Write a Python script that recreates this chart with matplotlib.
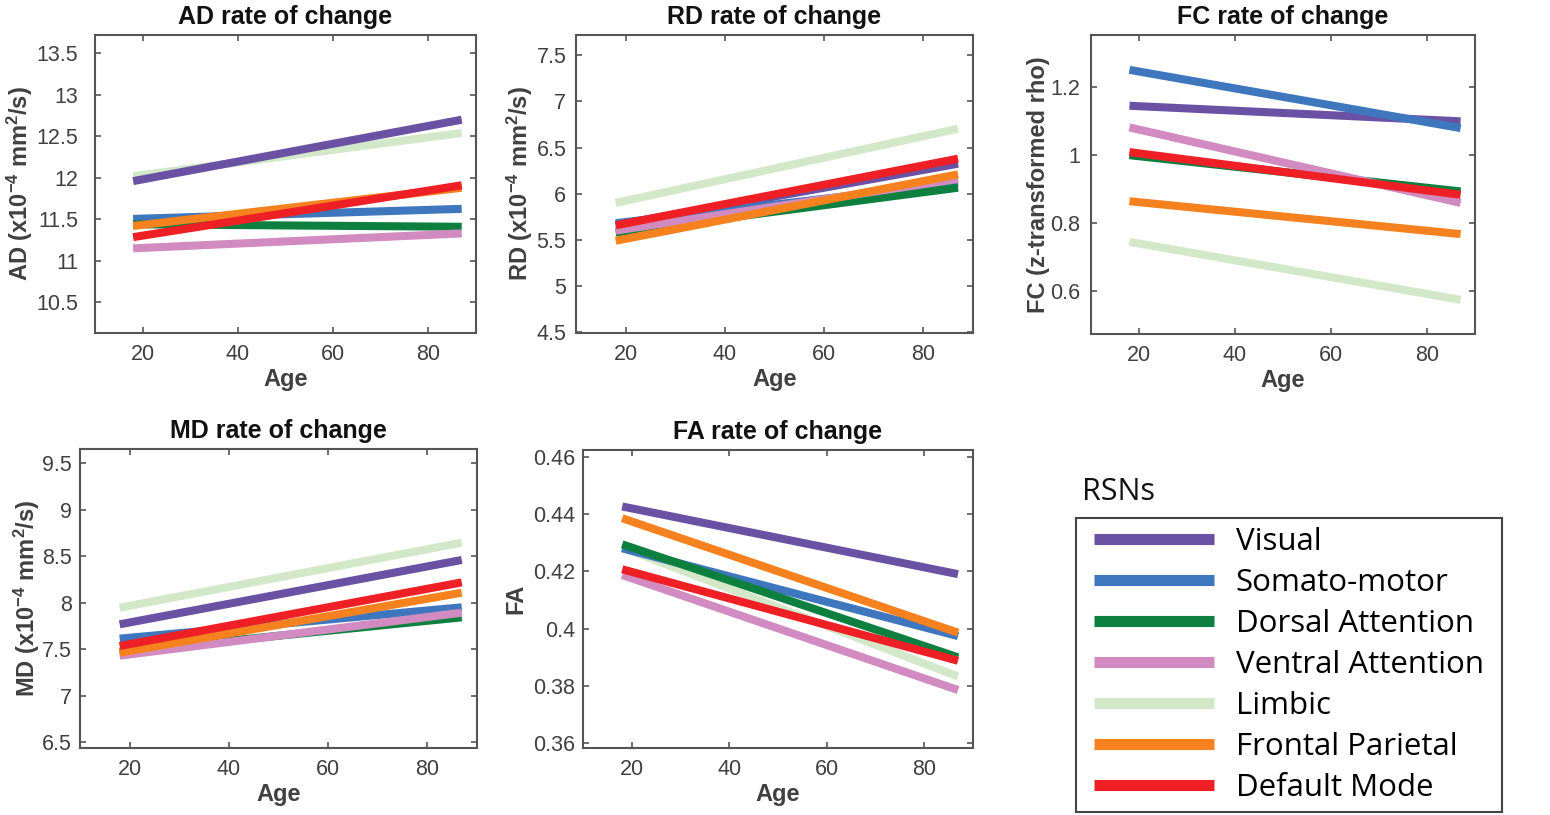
import matplotlib
matplotlib.use("Agg")
import matplotlib.pyplot as plt
from matplotlib.ticker import FuncFormatter
from matplotlib.lines import Line2D

plt.rcParams['font.family'] = ['Liberation Sans', 'DejaVu Sans']
plt.rcParams['mathtext.fontset'] = 'custom'
plt.rcParams['mathtext.rm'] = 'Liberation Sans:bold'
plt.rcParams['mathtext.bf'] = 'Liberation Sans:bold'
plt.rcParams['mathtext.default'] = 'bf'

# ---------------- data ----------------
networks = ["Visual", "Somato-motor", "Dorsal Attention", "Ventral Attention",
            "Limbic", "Frontal Parietal", "Default Mode"]
colors = ["#6A51A3", "#3F77BF", "#0D803F", "#D28BC0", "#D3E8C9", "#F5821F", "#EE2026"]
draw_order = [4, 0, 1, 2, 3, 5, 6]

age = [18, 87]

ad_start = [11.96, 11.505, 11.44, 11.15, 12.02, 11.42, 11.285]
ad_end   = [12.70, 11.626, 11.41, 11.33, 12.54, 11.88, 11.91]

rd_start = [5.66, 5.68, 5.58, 5.60, 5.90, 5.49, 5.657]
rd_end   = [6.325, 6.115, 6.065, 6.16, 6.705, 6.21, 6.38]

fc_start = [1.146, 1.252, 1.000, 1.082, 0.744, 0.864, 1.009]
fc_end   = [1.100, 1.080, 0.893, 0.859, 0.573, 0.767, 0.883]

md_start = [7.769, 7.615, 7.475, 7.432, 7.948, 7.464, 7.536]
md_end   = [8.461, 7.952, 7.844, 7.894, 8.647, 8.109, 8.220]

fa_start = [0.4426, 0.4280, 0.4294, 0.4187, 0.4283, 0.4385, 0.4207]
fa_end   = [0.4190, 0.3974, 0.3900, 0.3786, 0.3833, 0.3986, 0.3888]

xticks = [20, 40, 60, 80]

panels = [
    dict(title="AD rate of change", ylabel=r"AD (x10$^{-4}$ mm$^{2}$/s)",
         start=ad_start, end=ad_end, ylim=(10.13, 13.72),
         yticks=[10.5, 11, 11.5, 12, 12.5, 13, 13.5],
         rect=[0.0613, 0.5914, 0.2458, 0.3656], ypad=12, ylabpad=1),
    dict(title="RD rate of change", ylabel=r"RD (x10$^{-4}$ mm$^{2}$/s)",
         start=rd_start, end=rd_end, ylim=(4.49, 7.72),
         yticks=[4.5, 5, 5.5, 6, 6.5, 7, 7.5],
         rect=[0.3716, 0.5914, 0.2561, 0.3656], ypad=7, ylabpad=1),
    dict(title="FC rate of change", ylabel="FC (z-transformed rho)",
         start=fc_start, end=fc_end, ylim=(0.472, 1.355),
         yticks=[0.6, 0.8, 1.0, 1.2],
         rect=[0.7039, 0.5902, 0.2477, 0.3669], ypad=8, ylabpad=0),
    dict(title="MD rate of change", ylabel=r"MD (x10$^{-4}$ mm$^{2}$/s)",
         start=md_start, end=md_end, ylim=(6.443, 9.654),
         yticks=[6.5, 7, 7.5, 8, 8.5, 9, 9.5],
         rect=[0.0516, 0.0826, 0.2559, 0.3665], ypad=6, ylabpad=0),
    dict(title="FA rate of change", ylabel="FA",
         start=fa_start, end=fa_end, ylim=(0.3585, 0.4623),
         yticks=[0.36, 0.38, 0.40, 0.42, 0.44, 0.46],
         rect=[0.3763, 0.0826, 0.2512, 0.3653], ypad=6, ylabpad=4),
]

fig = plt.figure(figsize=(15.5, 8.15), dpi=100)
fmt = FuncFormatter(lambda v, p: f"{v:g}")
spine_col = "#555555"
tick_col = "#404040"

for p in panels:
    ax = fig.add_axes(p["rect"])
    for i in draw_order:
        ax.plot(age, [p["start"][i], p["end"][i]], color=colors[i], lw=5.8,
                solid_capstyle='butt')
    ax.set_xlim(10, 90)
    ax.set_ylim(*p["ylim"])
    ax.set_xticks(xticks)
    ax.set_yticks(p["yticks"])
    ax.yaxis.set_major_formatter(fmt)
    ax.tick_params(direction='in', top=True, right=True, length=4, width=1.2,
                   colors=spine_col, labelcolor=tick_col, labelsize=15.5)
    ax.tick_params(axis='y', pad=p["ypad"])
    ax.tick_params(axis='x', pad=8)
    for s in ax.spines.values():
        s.set_color(spine_col)
        s.set_linewidth(1.5)
    ax.set_title(p["title"], fontsize=18, fontweight='bold', color='#111111', pad=8)
    ax.set_xlabel("Age", fontsize=17, fontweight='bold', color=tick_col, labelpad=2)
    ax.set_ylabel(p["ylabel"], fontsize=17, fontweight='bold', color=tick_col,
                  labelpad=p["ylabpad"])

# legend panel (box drawn with the axes spines)
lax = fig.add_axes([1076 / 1550, 1 - 812 / 815, (1502 - 1076) / 1550, (812 - 518) / 815])
lax.set_xticks([])
lax.set_yticks([])
lax.patch.set_visible(False)
for s in lax.spines.values():
    s.set_color('#444444')
    s.set_linewidth(1.5)
handles = [Line2D([0], [0], color=colors[i], lw=8, solid_capstyle='butt')
           for i in range(len(networks))]
leg = lax.legend(handles, networks, loc='center left', bbox_to_anchor=(0.042, 0.5),
                 frameon=False, borderaxespad=0, borderpad=0,
                 prop={'family': ['Open Sans', 'DejaVu Sans'], 'size': 22.5},
                 handlelength=3.84, handletextpad=0.7, labelspacing=0.35)
fig.text(1082 / 1550, 1 - 492 / 815, "RSNs", fontsize=22,
         family=['Open Sans', 'DejaVu Sans'], color='#111111', va='center', ha='left')

fig.savefig("out.png", dpi=100)
